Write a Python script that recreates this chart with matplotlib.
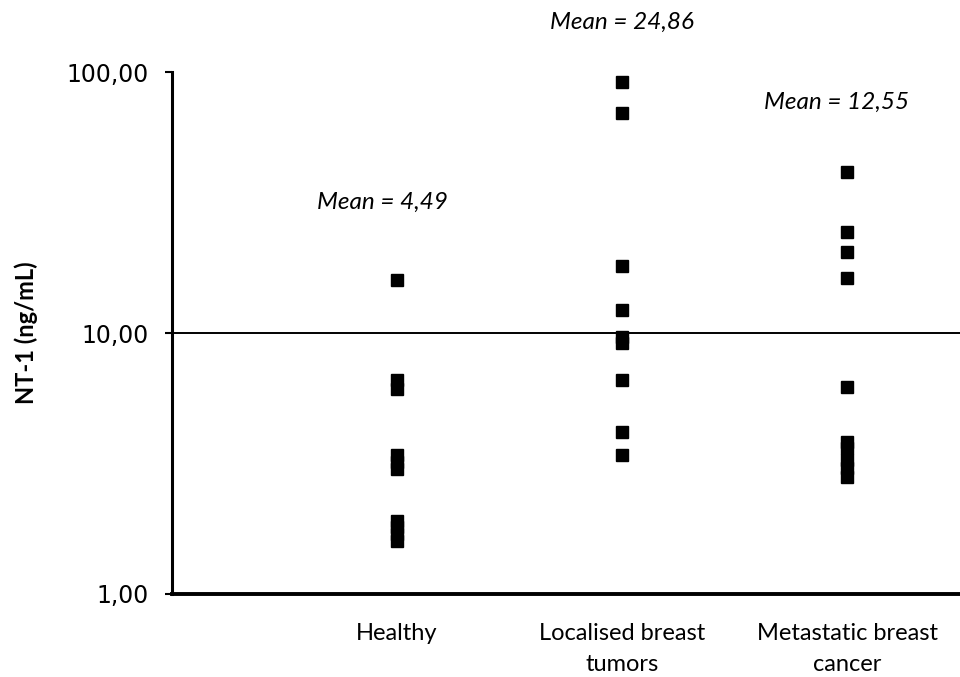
import matplotlib
matplotlib.use("Agg")
import matplotlib.pyplot as plt
from matplotlib.ticker import FixedLocator, FuncFormatter

# Données (ng/mL)
grupos = ["Healthy", "Localised breast\ntumors", "Metastatic breast\ncancer"]
healthy = [15.9, 6.6, 6.1, 3.4, 3.2, 3.0, 1.9, 1.8, 1.7, 1.6]
localised = [91.6, 69.6, 18.1, 12.25, 9.65, 9.15, 6.6, 4.18, 3.41]
metastatic = [41.4, 24.4, 20.4, 16.2, 6.21, 3.82, 3.63, 3.26, 3.04, 2.81]
medias = ["4,49", "24,86", "12,55"]
# posição do texto "Mean = ..."
x_medias = [0.935, 2.0, 2.95]
y_medias = [31.8, 155.0, 76.7]
yticks = [1, 10, 100]

series = [healthy, localised, metastatic]

fig = plt.figure(figsize=(9.6, 6.77), dpi=100)
ax = fig.add_axes([0.179, 0.1226, 0.821, 0.771])

ax.set_yscale("log")
ax.set_ylim(1, 100)
ax.set_xlim(0, 3.5)

for i, valores in enumerate(series):
    ax.plot([i + 1] * len(valores), valores, linestyle="none", marker="s",
            markersize=8.5, color="black", clip_on=False, zorder=3)
    ax.text(x_medias[i], y_medias[i], "Mean = " + medias[i], ha="center", va="center",
            fontsize=17.5, fontstyle="italic", family="Lato", clip_on=False)

# linha de grade em 10
ax.axhline(10, color="black", linewidth=1.4, zorder=2)

ax.spines["top"].set_visible(False)
ax.spines["right"].set_visible(False)
ax.spines["left"].set_linewidth(2.2)
ax.spines["bottom"].set_linewidth(2.8)

ax.yaxis.set_major_locator(FixedLocator(yticks))
ax.yaxis.set_minor_locator(FixedLocator([]))
ax.yaxis.set_major_formatter(FuncFormatter(lambda v, p: f"{v:.2f}".replace(".", ",")))
ax.tick_params(axis="y", length=5, width=1.5, labelsize=17, pad=12)

ax.set_xticks([1, 2, 3])
ax.set_xticklabels(grupos, family="Lato", fontsize=17, linespacing=1.6)
ax.tick_params(axis="x", length=0, pad=21)

ax.set_ylabel("NT-1 (ng/mL)", fontsize=17, fontweight="bold", family="Lato")
ax.yaxis.set_label_coords(-0.170, 0.5)

fig.savefig("out.png", dpi=100)
